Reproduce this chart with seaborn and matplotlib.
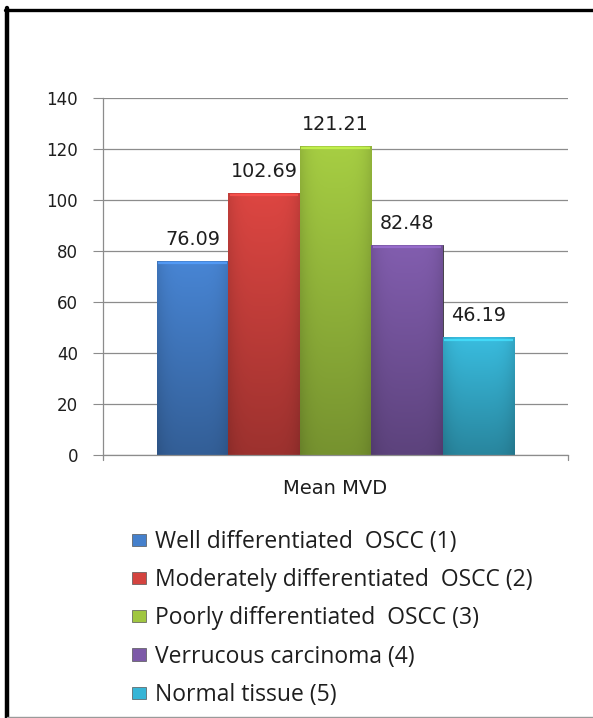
import numpy as np
import pandas as pd
import matplotlib
matplotlib.use("Agg")
import matplotlib.pyplot as plt
from matplotlib.lines import Line2D
from matplotlib.colors import to_rgb
import seaborn as sns

# Data
group_label = ["Mean MVD"]
categories = [
    "Well differentiated  OSCC (1)",
    "Moderately differentiated  OSCC (2)",
    "Poorly differentiated  OSCC (3)",
    "Verrucous carcinoma (4)",
    "Normal tissue (5)",
]
mean_mvd = [76.09, 102.69, 121.21, 82.48, 46.19]
y_ticks = [0, 20, 40, 60, 80, 100, 120, 140]
colors = ["#4580cc", "#d4433f", "#a0c640", "#7d5aa8", "#37b5d6"]

df = pd.DataFrame({
    "group": group_label * len(categories),
    "category": categories,
    "value": mean_mvd,
})

sns.set_theme(style="white")
plt.rcParams["font.family"] = ["DejaVu Sans"]

W, H, DPI = 593, 718, 100
fig = plt.figure(figsize=(W / DPI, H / DPI), dpi=DPI)
fig.patch.set_facecolor("white")


def px(x, y):
    return x / W, 1 - y / H


ax_left, ax_right, ax_top, ax_bot = 103, 568, 98, 455
ax = fig.add_axes([ax_left / W, 1 - ax_bot / H,
                   (ax_right - ax_left) / W, (ax_bot - ax_top) / H])

sns.barplot(data=df, x="group", y="value", hue="category",
            hue_order=categories, palette=colors, width=0.768,
            saturation=1, dodge=True, legend=False, ax=ax,
            edgecolor="#333333", linewidth=0.6)

ax.set_xlim(-0.5, 0.5)
ax.set_ylim(0, 140)
ax.set_yticks(y_ticks)
ax.set_yticklabels([str(t) for t in y_ticks], fontsize=12, color="#1e1e1e")
ax.set_xticks([0])
ax.set_xticklabels(group_label, fontsize=14, color="#1e1e1e")
ax.tick_params(axis="x", length=0, pad=17)
ax.tick_params(axis="y", direction="out", length=7, width=0.8,
               color="#8c8c8c", left=True, pad=11)
ax.yaxis.grid(True, color="#8c8c8c", linewidth=0.9)
ax.set_axisbelow(True)
ax.set_xlabel("")
ax.set_ylabel("")
for side in ["top", "right"]:
    ax.spines[side].set_visible(False)
for side in ["left", "bottom"]:
    ax.spines[side].set_color("#8c8c8c")
    ax.spines[side].set_linewidth(0.9)

# Shaded fill and value labels on each bar
patches = [p for p in ax.patches if p.get_height() > 0]
patches.sort(key=lambda p: p.get_x())
for patch, val, col in zip(patches, mean_mvd, colors):
    x0, w, h = patch.get_x(), patch.get_width(), patch.get_height()
    base = np.array(to_rgb(col))
    light = np.clip(base * 1.04, 0, 1)
    dark = base * 0.74
    t = np.linspace(0, 1, 64)[:, None]
    grad = light * (1 - t) + dark * t
    # darker left and right edges
    s = np.linspace(0, 1, 64)[None, :]
    edge = 1 - 0.12 * (np.abs(s - 0.5) * 2) ** 4
    img = grad[:, None, :] * edge[..., None]
    im = ax.imshow(np.clip(img, 0, 1), extent=[x0, x0 + w, 0, h],
                   aspect="auto", origin="upper", zorder=patch.get_zorder(),
                   interpolation="bilinear")
    im.set_clip_path(patch)
    # light bevel along the top edge
    ax.plot([x0 + w * 0.02, x0 + w * 0.98], [h - 0.9, h - 0.9],
            color=np.clip(base * 1.25, 0, 1), lw=1.6, alpha=0.8,
            solid_capstyle="butt", zorder=patch.get_zorder() + 0.1)
    ax.annotate(f"{val:.2f}", (x0 + w / 2, h), xytext=(0, 8.5),
                textcoords="offset points", ha="center", va="bottom",
                fontsize=13.8, color="#1e1e1e")
ax.set_xlim(-0.5, 0.5)
ax.set_ylim(0, 140)

# small ticks at both ends of the category axis
for xe in (-0.5, 0.5):
    ax.plot([xe, xe], [0, -1.8], color="#8c8c8c", lw=0.9, clip_on=False)

# Legend below the plot
handles = [plt.Rectangle((0, 0), 1, 1, facecolor=c, edgecolor="#555555",
                         linewidth=0.5) for c in colors]
leg = fig.legend(handles, categories, loc="upper left",
                 bbox_to_anchor=px(132, 530), frameon=False,
                 prop={"family": "Open Sans", "size": 16.5},
                 handlelength=0.63, handleheight=0.44, handletextpad=0.36,
                 labelspacing=0.62, borderaxespad=0, borderpad=0)
for txt in leg.get_texts():
    txt.set_color("#1e1e1e")

# Frame lines around the chart area
fig.add_artist(Line2D([7 / W, 7 / W], [0, 1 - 8 / H], color="black",
                      lw=3.2, transform=fig.transFigure))
fig.add_artist(Line2D([5 / W, 1], [1 - 9.5 / H, 1 - 9.5 / H], color="black",
                      lw=2.4, transform=fig.transFigure))
fig.add_artist(Line2D([7 / W, 1], [1 - 716.5 / H, 1 - 716.5 / H],
                      color="#9a9a9a", lw=1.0, transform=fig.transFigure))

fig.savefig("out.png", dpi=DPI, facecolor="white")
